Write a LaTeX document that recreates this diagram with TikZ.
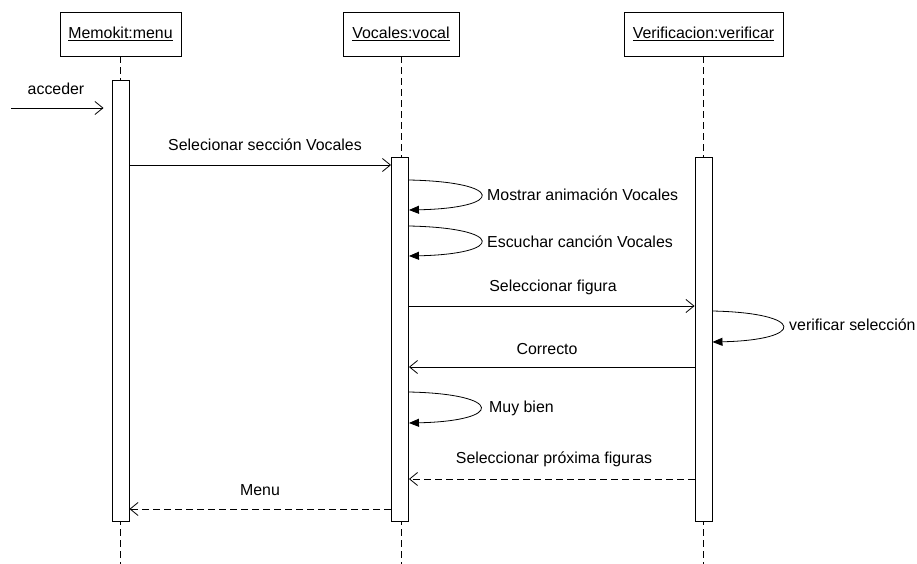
\documentclass[tikz,border=0pt]{standalone}
\usepackage{fontspec}
\setmainfont{Liberation Sans}
\usetikzlibrary{arrows.meta}
\begin{document}
\begin{tikzpicture}[x=1pt,y=-1pt,
  every node/.style={font=\fontsize{15.9}{19}\selectfont, inner sep=0pt},
  objbox/.style={draw, line width=0.9pt, minimum height=44pt, inner sep=0pt},
  actbar/.style={draw, fill=white, line width=0.9pt, minimum width=17pt, anchor=north, inner sep=0pt},
  lifeline/.style={line width=0.8pt, dash pattern=on 7pt off 4pt},
  msg/.style={line width=0.8pt, -{Straight Barb[length=8pt,width=13pt,line width=0.8pt]}},
  ret/.style={msg, dash pattern=on 7pt off 4pt},
  selfmsg/.style={line width=0.8pt, -{Triangle[length=10pt,width=8pt]}},
  lbl/.style={anchor=center},
  lbll/.style={anchor=west}]
\useasboundingbox (0,0) rectangle (917,564);
% objects
\node[objbox, minimum width=121pt] (oM) at (120.5,34) {\underline{Memokit:menu}};
\node[objbox, minimum width=116pt] (oV) at (401,34) {\underline{Vocales:vocal}};
\node[objbox, minimum width=159pt] (oR) at (703.5,34) {\underline{Verificacion:verificar}};
% lifelines
\coordinate (eM) at (120.5,564);
\coordinate (eV) at (401,564);
\coordinate (eR) at (703.5,564);
\draw[lifeline] (oM.south) -- (eM);
\draw[lifeline] (oV.south) -- (eV);
\draw[lifeline] (oR.south) -- (eR);
% activation bars
\node[actbar, minimum height=441pt] (bM) at (120.5,80) {};
\node[actbar, minimum height=364pt] (bV) at (400,157) {};
\node[actbar, minimum height=364pt] (bR) at (703.5,157) {};
% acceder
\coordinate (aS) at (11,108);
\draw[msg, shorten >=8pt] (aS) -- (bM.west |- aS);
\node[lbl] (lA) at (56,89) {acceder};
% Selecionar seccion Vocales
\draw[msg] (bM.east |- 0,165) -- (bV.west |- 0,165);
\node[lbl] (l1) at (265,145) {Selecionar sección Vocales};
% Mostrar animacion
\draw[selfmsg] (bV.east |- 0,180) .. controls (505,182) and (505,208) .. (bV.east |- 0,210);
\node[lbll] (l2) at (487,195) {Mostrar animación Vocales};
% Escuchar cancion
\draw[selfmsg] (bV.east |- 0,226) .. controls (505,228) and (505,254) .. (bV.east |- 0,256);
\node[lbll] (l3) at (487,242) {Escuchar canción Vocales};
% Seleccionar figura
\draw[msg] (bV.east |- 0,306) -- (bR.west |- 0,306);
\node[lbl] (l4) at (553,287) {Seleccionar figura};
% verificar seleccion
\draw[selfmsg] (bR.east |- 0,311) .. controls (806,313) and (806,340) .. (bR.east |- 0,342);
\node[lbll] (l5) at (789,325) {verificar selección};
% Correcto
\draw[msg] (bR.west |- 0,367) -- (bV.east |- 0,367);
\node[lbl] (l6) at (547,349) {Correcto};
% Muy bien
\draw[selfmsg] (bV.east |- 0,392) .. controls (504,394) and (504,421) .. (bV.east |- 0,423);
\node[lbll] (l7) at (489,408) {Muy bien};
% Seleccionar proxima figuras
\draw[ret] (bR.west |- 0,479) -- (bV.east |- 0,479);
\node[lbl] (l8) at (554,459) {Seleccionar próxima figuras};
% Menu
\draw[ret] (bV.west |- 0,509) -- (bM.east |- 0,509);
\node[lbl] (l9) at (260,490) {Menu};
\end{tikzpicture}
\end{document}
